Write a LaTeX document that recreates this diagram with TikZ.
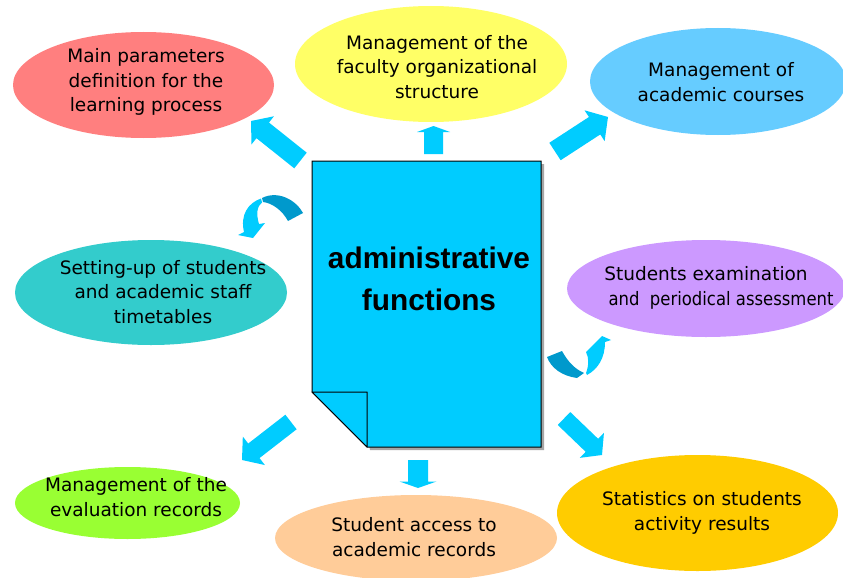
\documentclass[tikz,border=0pt]{standalone}
\usepackage{fontspec}
\setmainfont{DejaVu Sans}
\newfontfamily\arialfont{Liberation Sans}
\usetikzlibrary{shapes.geometric,calc}
\definecolor{cRed}{HTML}{FF7F7F}
\definecolor{cYellow}{HTML}{FFFF66}
\definecolor{cBlue}{HTML}{66CCFF}
\definecolor{cTeal}{HTML}{33CCCC}
\definecolor{cPurple}{HTML}{CC99FF}
\definecolor{cGreen}{HTML}{99FF33}
\definecolor{cPeach}{HTML}{FFCC99}
\definecolor{cOrange}{HTML}{FFCC00}
\definecolor{cCyan}{HTML}{00CCFF}
\definecolor{cDark}{HTML}{0099CC}
\newcommand\blockarrow[5]{%
  \fill[cCyan] ($(#1)!#3!90:(#2)$) -- ($($(#2)!#5!(#1)$)!#3!-90:(#1)$)
    -- ($($(#2)!#5!(#1)$)!#4!-90:(#1)$) -- (#2)
    -- ($($(#2)!#5!(#1)$)!#4!90:(#1)$) -- ($($(#2)!#5!(#1)$)!#3!90:(#1)$)
    -- ($(#1)!#3!-90:(#2)$) -- cycle;}
\begin{document}
\begin{tikzpicture}[x=1pt,y=-1pt,
  oval/.style={ellipse, draw=none, inner sep=0pt},
  lbl/.style={align=center, font=\fontsize{18.5}{24.5}\selectfont, text=black, inner sep=0pt}]
\useasboundingbox (0,0) rectangle (843,578);
\fill[white] (0,0) rectangle (843,578);
% ellipses
\node[oval, fill=cRed, minimum width=261pt, minimum height=106pt] (red) at (143.5,85) {};
\node[oval, fill=cYellow, minimum width=272pt, minimum height=116pt] (yellow) at (431,64) {};
\node[oval, fill=cBlue, minimum width=256pt, minimum height=107pt] (blue) at (718,81.5) {};
\node[oval, fill=cTeal, minimum width=272pt, minimum height=105pt] (teal) at (151,292.5) {};
\node[oval, fill=cPurple, minimum width=278pt, minimum height=97pt] (purple) at (706,288.5) {};
\node[oval, fill=cGreen, minimum width=225pt, minimum height=72pt] (green) at (127.5,503) {};
\node[oval, fill=cPeach, minimum width=282pt, minimum height=86pt] (peach) at (416,538) {};
\node[oval, fill=cOrange, minimum width=281pt, minimum height=116pt] (orange) at (697.5,513) {};
% labels
\node[lbl] (tred) at (146,82) {Main parameters\\definition for the\\learning process};
\node[lbl] (tyellow) at (437,67) {Management of the\\faculty organizational\\structure};
\node[lbl] (tblue) at (721,82) {Management of\\academic courses};
\node[lbl] (tteal) at (163,292) {Setting-up of students\\and academic staff\\timetables};
\node[lbl] (tpurple) at (706,288) {Students examination\\\hspace*{30pt}\scalebox{0.89}[1]{and\ \ periodical assessment}};
\node[lbl] (tgreen) at (136,497) {Management of the\\evaluation records};
\node[lbl] (tpeach) at (414,537) {Student access to\\academic records};
\node[lbl] (torange) at (702,513) {Statistics on students\\activity results};
% document
\fill[gray!70] (315,164) -- (544,164) -- (544,450) -- (370,450) -- cycle;
\draw[fill=cCyan, line width=1pt] (312,161) -- (541,161) -- (541,447) -- (367,447) -- (312,392) -- cycle;
\draw[fill=cCyan, line width=1pt, line join=round] (312,392) -- (367,392) -- (367,447) -- cycle;
\node[font=\arialfont\bfseries\fontsize{29.8}{42}\selectfont, align=center, inner sep=0pt] (doc) at (429,279) {administrative\\functions};
% straight block arrows
\blockarrow{300.5,160.5}{251,121}{10pt}{18pt}{15pt}
\blockarrow{433.5,154}{433.5,126}{9.5pt}{16.5pt}{6pt}
\blockarrow{555,151.5}{608,117}{10.4pt}{18.4pt}{16pt}
\blockarrow{291,422}{242,460}{9.2pt}{18pt}{15pt}
\blockarrow{418,460}{418,488}{10pt}{18.5pt}{6.5pt}
\blockarrow{564,418.5}{602,455}{9pt}{17.4pt}{14pt}
% curved arrow, upper left
\fill[cDark] (262,198) .. controls (278,190) and (296,200) .. (303,213) -- (288,221) .. controls (282,210) and (272,203) .. (263,202) -- cycle;
\fill[cCyan] (261,198.5) .. controls (248,203) and (240,215) .. (244,232) -- (238,235) -- (253,238) -- (265,223) -- (259,224) .. controls (256,214) and (257,206) .. (262,202.5) -- cycle;
% curved arrow, right
\fill[cDark] (547,357) -- (562,351) .. controls (568,362) and (575,369) .. (584,373) -- (577,378) .. controls (562,376) and (551,368) .. (547,357) -- cycle;
\fill[cCyan] (586,373) .. controls (589,365) and (589,358) .. (586,352) -- (602,336) -- (611,340) -- (605,342) .. controls (605,358) and (598,369) .. (587,375) -- cycle;
\end{tikzpicture}
\end{document}
